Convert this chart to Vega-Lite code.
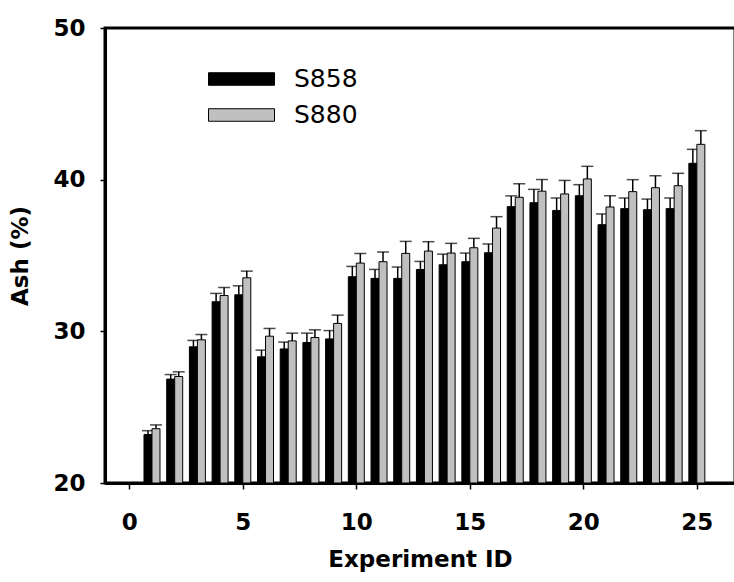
{
  "$schema": "https://vega.github.io/schema/vega-lite/v6.json",
  "autosize": "none",
  "padding": {"left": 105, "top": 28, "right": 0, "bottom": 99},
  "width": 630,
  "height": 455,
  "background": "white",
  "config": {
    "font": "DejaVu Sans",
    "view": {"stroke": "black", "strokeWidth": 3},
    "axis": {
      "grid": false,
      "domainColor": "black",
      "domainWidth": 3,
      "tickColor": "black",
      "tickWidth": 1.5,
      "labelFont": "DejaVu Sans",
      "labelFontWeight": "bold",
      "labelFontSize": 23,
      "labelColor": "black",
      "titleFont": "DejaVu Sans",
      "titleFontWeight": "bold",
      "titleFontSize": 23,
      "titleColor": "black"
    },
    "legend": {
      "orient": "none",
      "legendX": 119.5,
      "legendY": 34,
      "title": null,
      "padding": 0,
      "labelFont": "DejaVu Sans",
      "labelFontSize": 25,
      "labelColor": "black",
      "labelOffset": 35.5,
      "rowPadding": 6,
      "symbolType": "M-2,-0.38H2V0.38H-2Z",
      "symbolSize": 1089,
      "symbolStrokeColor": "black",
      "symbolStrokeWidth": 1,
      "symbolOpacity": 1
    }
  },
  "data": {
    "values": [
      {"id": 1, "series": "S858", "ash": 23.2, "hi": 23.45},
      {"id": 1, "series": "S880", "ash": 23.58, "hi": 23.83},
      {"id": 2, "series": "S858", "ash": 26.85, "hi": 27.15},
      {"id": 2, "series": "S880", "ash": 27.02, "hi": 27.33},
      {"id": 3, "series": "S858", "ash": 28.98, "hi": 29.4},
      {"id": 3, "series": "S880", "ash": 29.44, "hi": 29.79},
      {"id": 4, "series": "S858", "ash": 31.95, "hi": 32.5},
      {"id": 4, "series": "S880", "ash": 32.36, "hi": 32.89},
      {"id": 5, "series": "S858", "ash": 32.41, "hi": 33.0},
      {"id": 5, "series": "S880", "ash": 33.53, "hi": 33.97},
      {"id": 6, "series": "S858", "ash": 28.32, "hi": 28.76},
      {"id": 6, "series": "S880", "ash": 29.68, "hi": 30.19},
      {"id": 7, "series": "S858", "ash": 28.84, "hi": 29.29},
      {"id": 7, "series": "S880", "ash": 29.37, "hi": 29.88},
      {"id": 8, "series": "S858", "ash": 29.26, "hi": 29.88},
      {"id": 8, "series": "S880", "ash": 29.59, "hi": 30.1},
      {"id": 9, "series": "S858", "ash": 29.5, "hi": 30.05},
      {"id": 9, "series": "S880", "ash": 30.52, "hi": 31.07},
      {"id": 10, "series": "S858", "ash": 33.6, "hi": 34.28},
      {"id": 10, "series": "S880", "ash": 34.5, "hi": 35.14},
      {"id": 11, "series": "S858", "ash": 33.49, "hi": 34.08},
      {"id": 11, "series": "S880", "ash": 34.59, "hi": 35.23},
      {"id": 12, "series": "S858", "ash": 33.49, "hi": 34.24},
      {"id": 12, "series": "S880", "ash": 35.14, "hi": 35.93},
      {"id": 13, "series": "S858", "ash": 34.08, "hi": 34.61},
      {"id": 13, "series": "S880", "ash": 35.29, "hi": 35.91},
      {"id": 14, "series": "S858", "ash": 34.39, "hi": 35.09},
      {"id": 14, "series": "S880", "ash": 35.16, "hi": 35.8},
      {"id": 15, "series": "S858", "ash": 34.59, "hi": 35.16},
      {"id": 15, "series": "S880", "ash": 35.51, "hi": 36.13},
      {"id": 16, "series": "S858", "ash": 35.18, "hi": 35.76},
      {"id": 16, "series": "S880", "ash": 36.81, "hi": 37.56},
      {"id": 17, "series": "S858", "ash": 38.22, "hi": 38.93},
      {"id": 17, "series": "S880", "ash": 38.84, "hi": 39.73},
      {"id": 18, "series": "S858", "ash": 38.48, "hi": 39.36},
      {"id": 18, "series": "S880", "ash": 39.24, "hi": 40.01},
      {"id": 19, "series": "S858", "ash": 37.97, "hi": 38.79},
      {"id": 19, "series": "S880", "ash": 39.06, "hi": 39.95},
      {"id": 20, "series": "S858", "ash": 38.94, "hi": 39.67},
      {"id": 20, "series": "S880", "ash": 40.05, "hi": 40.88},
      {"id": 21, "series": "S858", "ash": 37.03, "hi": 37.74},
      {"id": 21, "series": "S880", "ash": 38.2, "hi": 38.94},
      {"id": 22, "series": "S858", "ash": 38.09, "hi": 38.79},
      {"id": 22, "series": "S880", "ash": 39.21, "hi": 40.0},
      {"id": 23, "series": "S858", "ash": 38.02, "hi": 38.72},
      {"id": 23, "series": "S880", "ash": 39.47, "hi": 40.26},
      {"id": 24, "series": "S858", "ash": 38.09, "hi": 38.79},
      {"id": 24, "series": "S880", "ash": 39.6, "hi": 40.42},
      {"id": 25, "series": "S858", "ash": 41.08, "hi": 42.0},
      {"id": 25, "series": "S880", "ash": 42.33, "hi": 43.23}
    ]
  },
  "encoding": {
    "x": {
      "field": "id",
      "type": "quantitative",
      "scale": {"domain": [-0.85, 26.46], "nice": false, "zero": false},
      "axis": {
        "title": "Experiment ID",
        "values": [0, 5, 10, 15, 20, 25],
        "tickSize": 6,
        "labelPadding": 22,
        "titlePadding": 14,
        "labelFlush": false
      }
    },
    "y": {
      "field": "ash",
      "type": "quantitative",
      "title": "Ash (%)",
      "scale": {"domain": [20, 50], "nice": false, "zero": false},
      "axis": {
        "values": [20, 30, 40, 50],
        "tickSize": 5,
        "labelPadding": 15,
        "titlePadding": 20
      }
    }
  },
  "layer": [
    {
      "transform": [{"filter": "datum.series === 'S858'"}],
      "layer": [
        {
          "mark": {"type": "rule", "xOffset": -4, "color": "black", "strokeWidth": 1.5},
          "encoding": {
            "y": {"field": "hi", "type": "quantitative", "title": "Ash (%)"},
            "y2": {"field": "ash"}
          }
        },
        {
          "mark": {"type": "tick", "orient": "horizontal", "xOffset": -4, "color": "black", "size": 12, "thickness": 1.5},
          "encoding": {
            "y": {"field": "hi", "type": "quantitative", "title": "Ash (%)"}
          }
        },
        {
          "mark": {"type": "bar", "width": 8, "xOffset": -4, "stroke": "black", "strokeWidth": 1},
          "encoding": {
            "y2": {"datum": 20},
            "color": {
              "field": "series",
              "type": "nominal",
              "scale": {"domain": ["S858", "S880"], "range": ["#000000", "#c0c0c0"]}
            }
          }
        }
      ]
    },
    {
      "transform": [{"filter": "datum.series === 'S880'"}],
      "layer": [
        {
          "mark": {"type": "rule", "xOffset": 4, "color": "black", "strokeWidth": 1.5},
          "encoding": {
            "y": {"field": "hi", "type": "quantitative", "title": "Ash (%)"},
            "y2": {"field": "ash"}
          }
        },
        {
          "mark": {"type": "tick", "orient": "horizontal", "xOffset": 4, "color": "black", "size": 12, "thickness": 1.5},
          "encoding": {
            "y": {"field": "hi", "type": "quantitative", "title": "Ash (%)"}
          }
        },
        {
          "mark": {"type": "bar", "width": 8, "xOffset": 4, "stroke": "black", "strokeWidth": 1},
          "encoding": {
            "y2": {"datum": 20},
            "color": {
              "field": "series",
              "type": "nominal",
              "scale": {"domain": ["S858", "S880"], "range": ["#000000", "#c0c0c0"]}
            }
          }
        }
      ]
    }
  ],
  "resolve": {"scale": {"y": "shared", "color": "shared"}}
}
